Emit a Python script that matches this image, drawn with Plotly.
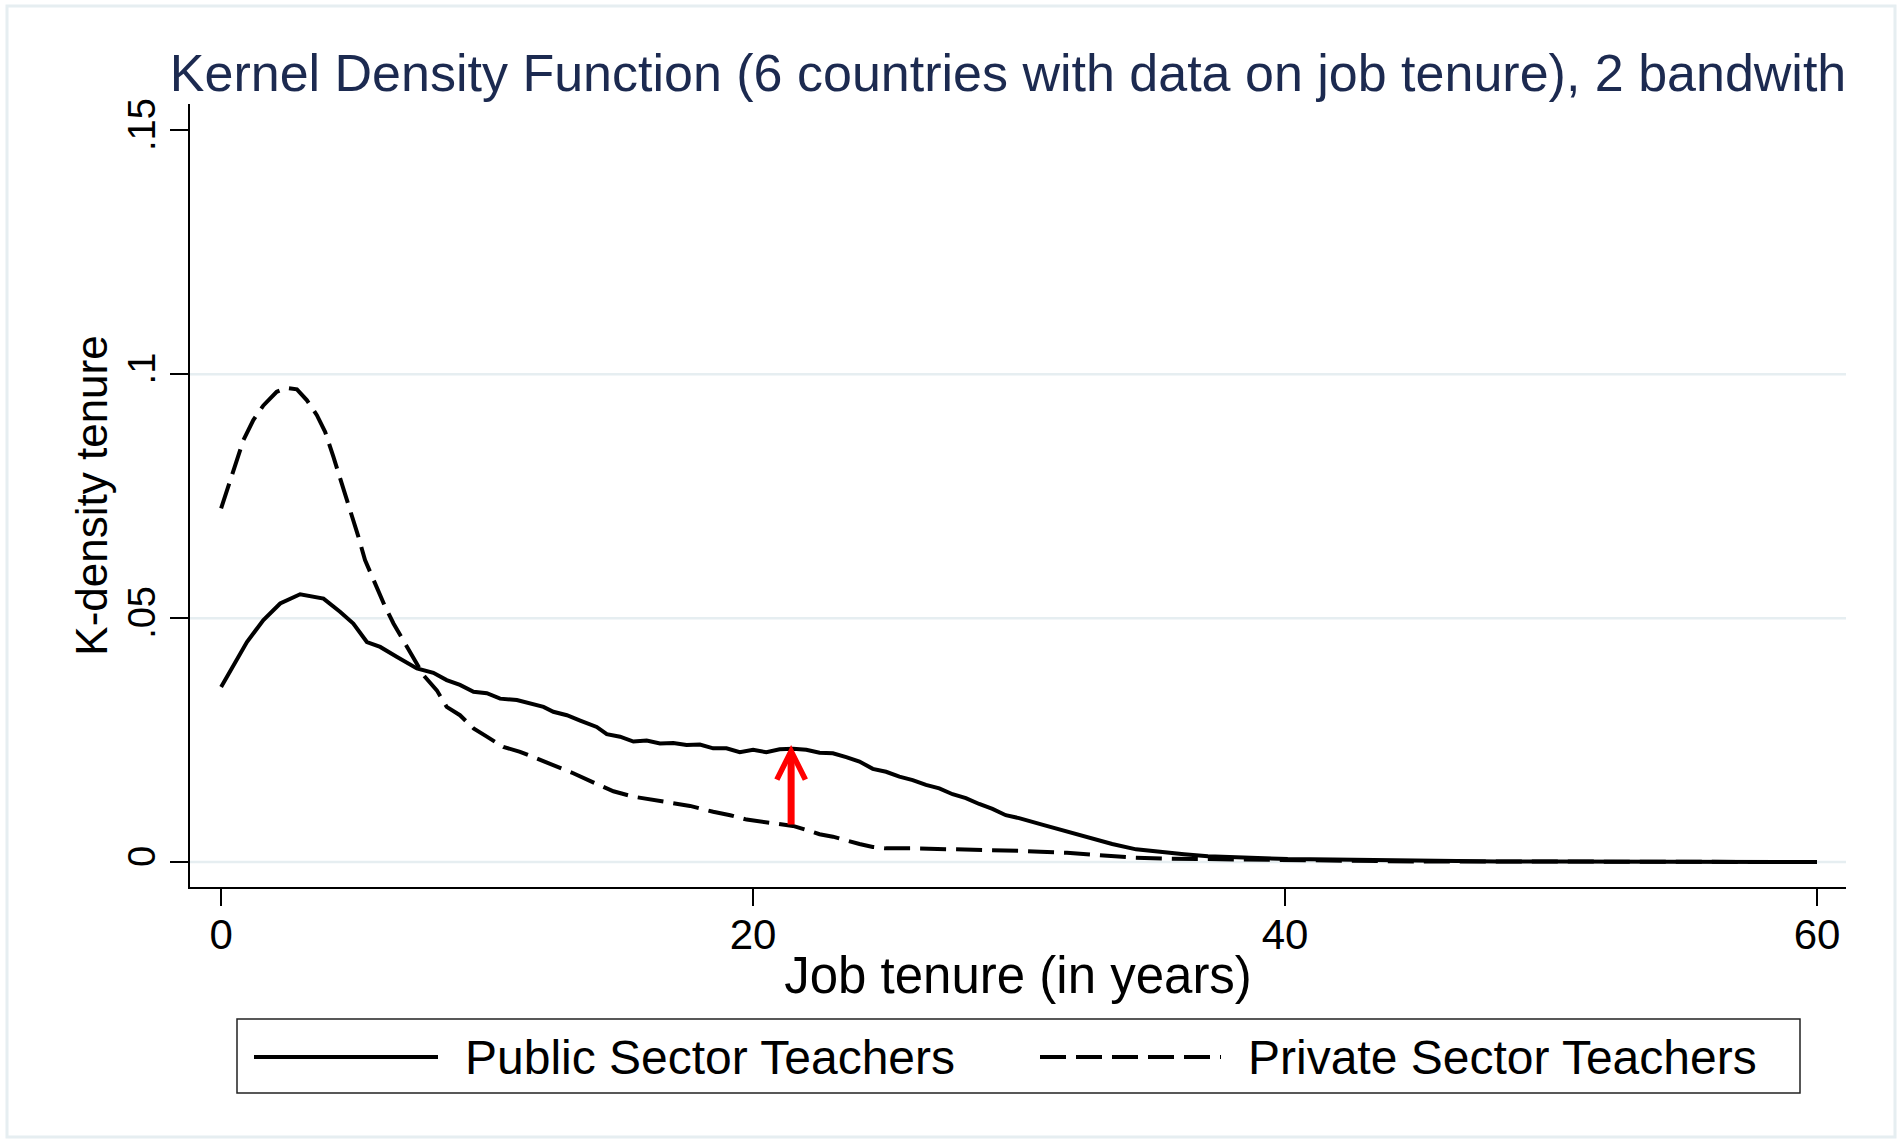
import plotly.graph_objects as go

# ---------------- data ----------------
public_x = [0, 0.46, 0.97, 1.59, 2.22, 2.97, 3.85, 4.47, 4.97, 5.48, 5.98, 6.6, 7.36, 7.98, 8.48,
            8.98, 9.49, 9.99, 10.49, 11.12, 11.62, 12.12, 12.49, 13.0, 13.5, 14.12, 14.5, 15.0,
            15.5, 16.0, 16.5, 17.0, 17.5, 18.0, 18.5, 19.0, 19.5, 20.0, 20.5, 21.0, 21.5, 22.0,
            22.5, 23.0, 23.5, 24.0, 24.5, 25.0, 25.5, 26.0, 26.5, 27.0, 27.5, 28.0, 28.5, 29.0,
            29.5, 30.0, 30.9, 31.8, 32.7, 33.5, 34.4, 35.3, 36.2, 37.1, 38.1, 39.1, 40.1, 41.8,
            43.1, 44.3, 46, 48, 50, 55, 60]
public_y = [.0359, .0404, .0451, .0496, .0530, .0549, .0540, .0513, .0489, .0451, .0441, .0421,
            .0397, .0388, .0373, .0363, .0349, .0346, .0335, .0332, .0324, .0318, .0308, .0301,
            .0290, .0277, .0262, .0257, .0247, .0249, .0243, .0244, .0240, .0241, .0233, .0233,
            .0225, .0230, .0225, .0231, .0232, .0230, .0224, .0223, .0215, .0206, .0191, .0185,
            .0175, .0168, .0158, .0151, .0139, .0131, .0119, .0109, .0096, .0090, .0076, .0062,
            .0049, .0037, .0026, .0020, .0016, .0012, .0010, .0008, .0006, .0005, .0004, .0002,
            .0002, .0001, .0001, 0.0, 0.0]

private_x = [0, 0.40, 0.84, 1.21, 1.59, 2.09, 2.47, 2.85, 3.22, 3.60, 3.91, 4.22, 4.54, 4.85,
             5.16, 5.41, 5.79, 6.17, 6.48, 6.98, 7.61, 8.11, 8.48, 8.98, 9.49, 9.99, 10.61,
             11.24, 11.87, 12.62, 13.24, 14.12, 14.75, 15.5, 16.25, 17.0, 17.63, 18.5, 19.14,
             19.76, 20.5, 21.5, 22.0, 22.5, 23.0, 23.5, 24.0, 24.5, 25.0, 26.0, 27.0, 28.0,
             29.0, 30.0, 30.8, 31.8, 33.0, 34.3, 35.6, 37.0, 38.5, 40, 42, 45, 50, 55, 60]
private_y = [.0725, .0790, .0865, .0906, .0936, .0964, .0972, .0969, .0947, .0916, .0882, .0831,
             .0776, .0721, .0667, .0619, .0571, .0523, .0489, .0441, .0383, .0352, .0318, .0301,
             .0274, .0257, .0236, .0226, .0212, .0195, .0182, .0160, .0145, .0134, .0127, .0122,
             .0115, .0103, .0096, .0087, .0081, .0074, .0066, .0057, .0052, .0044, .0037, .0031,
             .0028, .0028, .0027, .0025, .0025, .0023, .0021, .0019, .0014, .0009, .0007, .0006,
             .0004, .0003, .0002, .0001, .0001, 0.0, 0.0]

# red arrow: from the private curve up to the public curve
arrow_x = 21.43
arrow_from_y = 0.0074
arrow_to_y = 0.0240

series_names = ["Public Sector Teachers", "Private Sector Teachers"]
x_tick_vals = [0, 20, 40, 60]
y_tick_vals = [0, 0.05, 0.1, 0.15]
y_tick_text = ["0", ".05", ".1", ".15"]
grid_vals = [0, 0.05, 0.1]

title_text = "Kernel Density Function (6 countries with data on job tenure), 2 bandwith"
x_title = "Job tenure (in years)"
y_title = "K-density tenure"

# ---------------- layout geometry ----------------
W, H = 1902, 1143
L, R, T, B = 190, 56, 104, 256
PW, PH = W - L - R, H - T - B
FONT = "Liberation Sans, Arial, Helvetica, sans-serif"
DASH = "26px,10px"


def px_x(px):
    return (px - L) / PW


def px_y(py):
    return (H - B - py) / PH


fig = go.Figure()
fig.add_trace(go.Scatter(x=public_x, y=public_y, mode="lines", name=series_names[0],
                         line=dict(color="black", width=4), showlegend=False))
fig.add_trace(go.Scatter(x=private_x, y=private_y, mode="lines", name=series_names[1],
                         line=dict(color="black", width=4, dash=DASH), showlegend=False))

shapes = []
# grid lines
for g in grid_vals:
    shapes.append(dict(type="line", xref="paper", yref="y", x0=0, x1=1, y0=g, y1=g,
                       line=dict(color="#e6eef1", width=2.5), layer="below"))
# outer light frame
shapes.append(dict(type="rect", xref="paper", yref="paper",
                   x0=px_x(7), x1=px_x(1895), y0=px_y(1137), y1=px_y(6),
                   line=dict(color="#e6eef1", width=3), layer="below"))
# custom legend box
leg_y = px_y(1057)
shapes.append(dict(type="rect", xref="paper", yref="paper",
                   x0=px_x(237), x1=px_x(1800), y0=px_y(1093), y1=px_y(1019),
                   line=dict(color="#222222", width=1.5), fillcolor="white"))
shapes.append(dict(type="line", xref="paper", yref="paper",
                   x0=px_x(254), x1=px_x(438), y0=leg_y, y1=leg_y,
                   line=dict(color="black", width=4)))
shapes.append(dict(type="line", xref="paper", yref="paper",
                   x0=px_x(1040), x1=px_x(1221), y0=leg_y, y1=leg_y,
                   line=dict(color="black", width=4, dash=DASH)))

LEG_FONT = 48
annotations = [
    dict(xref="paper", yref="paper", x=px_x(463), y=leg_y, text=series_names[0],
         showarrow=False, xanchor="left", yanchor="middle",
         font=dict(family=FONT, size=LEG_FONT, color="black")),
    dict(xref="paper", yref="paper", x=px_x(1246), y=leg_y, text=series_names[1],
         showarrow=False, xanchor="left", yanchor="middle",
         font=dict(family=FONT, size=LEG_FONT, color="black")),
    dict(x=arrow_x, y=arrow_to_y, ax=arrow_x, ay=arrow_from_y, xref="x", yref="y",
         axref="x", ayref="y", text="", showarrow=True, arrowhead=5, arrowsize=0.8,
         arrowwidth=7, arrowcolor="red", standoff=0, startstandoff=0),
]

fig.update_layout(
    width=W, height=H, autosize=False,
    margin=dict(l=L, r=R, t=T, b=B, pad=0),
    paper_bgcolor="white", plot_bgcolor="white",
    font=dict(family=FONT, color="black"),
    title=dict(text=title_text, xref="container", yref="container",
               x=0.53, y=1 - 73 / H, xanchor="center", yanchor="middle",
               font=dict(family=FONT, size=52, color="#1c2a50")),
    shapes=shapes, annotations=annotations,
    showlegend=False,
)
fig.update_xaxes(range=[-1.17, 61.09], tickvals=x_tick_vals, ticks="outside", ticklen=17,
                 tickwidth=1.5, tickcolor="black", showline=True, linewidth=1.5,
                 linecolor="black", showgrid=False, zeroline=False, ticklabelstandoff=-7,
                 tickfont=dict(family=FONT, size=42, color="black"),
                 title=dict(text=x_title, font=dict(family=FONT, size=51, color="black"),
                            standoff=0))
fig.update_yaxes(range=[-0.00512, 0.1554], tickvals=y_tick_vals, ticktext=y_tick_text,
                 tickangle=-90, ticks="outside", ticklen=18, tickwidth=1.5, tickcolor="black",
                 showline=True, linewidth=1.5, linecolor="black", showgrid=False,
                 zeroline=False, tickfont=dict(family=FONT, size=38, color="black"),
                 title=dict(text=y_title, font=dict(family=FONT, size=44, color="black"),
                            standoff=0))

fig.write_html("out.html", config={"displayModeBar": False},
               post_script="document.body.style.margin='0';document.body.style.overflow='hidden';")
